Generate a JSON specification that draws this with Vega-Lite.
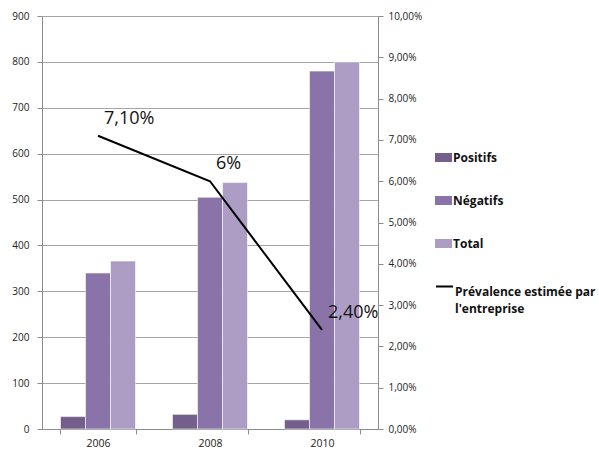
{
  "$schema": "https://vega.github.io/schema/vega-lite/v6.json",
  "width": 336,
  "height": 413,
  "autosize": "none",
  "padding": {"left": 42, "top": 16, "right": 221, "bottom": 23},
  "background": "white",
  "config": {
    "locale": {"number": {"decimal": ",", "thousands": " ", "grouping": [3], "currency": ["", " €"]}},
    "view": {"stroke": null},
    "font": "Open Sans",
    "axis": {"labelFont": "Open Sans", "labelFontSize": 10, "labelColor": "#222", "domainColor": "#8c8c8c", "tickColor": "#8c8c8c", "gridColor": "#a6a6a6", "title": null}
  },
  "layer": [
    {
      "data": {"values": [
        {"year": "2006", "serie": "Positifs", "value": 27},
        {"year": "2006", "serie": "Négatifs", "value": 340},
        {"year": "2006", "serie": "Total", "value": 366},
        {"year": "2008", "serie": "Positifs", "value": 32},
        {"year": "2008", "serie": "Négatifs", "value": 505},
        {"year": "2008", "serie": "Total", "value": 537},
        {"year": "2010", "serie": "Positifs", "value": 20},
        {"year": "2010", "serie": "Négatifs", "value": 780},
        {"year": "2010", "serie": "Total", "value": 800}
      ]},
      "mark": {"type": "bar", "stroke": "white", "strokeWidth": 0.6},
      "encoding": {
        "x": {"field": "year", "type": "nominal", "scale": {"paddingInner": 0.33, "paddingOuter": 0.165},
              "axis": {"labelAngle": 0, "tickBand": "extent", "tickSize": 5, "labelPadding": 4, "labelFontSize": 10.5}},
        "xOffset": {"field": "serie", "type": "nominal", "sort": ["Positifs", "Négatifs", "Total"], "scale": {"paddingInner": 0}},
        "y": {"field": "value", "type": "quantitative", "scale": {"domain": [0, 900], "nice": false},
              "axis": {"values": [0,100,200,300,400,500,600,700,800,900], "grid": true, "tickSize": 5, "labelPadding": 8, "orient": "left"}},
        "color": {"field": "serie", "type": "nominal", "sort": ["Positifs", "Négatifs", "Total"],
                  "scale": {"domain": ["Positifs", "Négatifs", "Total"], "range": ["#735e8c", "#8a73a8", "#ad9dc4"]},
                  "legend": {"title": null, "orient": "none", "legendX": 393, "legendY": 133, "padding": 0,
                             "symbolType": "M-1,-0.53H1V0.53H-1Z", "symbolSize": 289, "symbolStrokeWidth": 0,
                             "labelFont": "Open Sans", "labelFontWeight": "bold", "labelFontSize": 12, "labelColor": "#111",
                             "labelOffset": 1, "rowPadding": 28}}
      }
    },
    {
      "data": {"values": [
        {"year": "2006", "prev": 0.071, "label": "7,10%", "serie": "Prévalence estimée par l'entreprise"},
        {"year": "2008", "prev": 0.06, "label": "6%", "serie": "Prévalence estimée par l'entreprise"},
        {"year": "2010", "prev": 0.024, "label": "2,40%", "serie": "Prévalence estimée par l'entreprise"}
      ]},
      "encoding": {
        "x": {"field": "year", "type": "nominal"},
        "y": {"field": "prev", "type": "quantitative", "scale": {"domain": [0, 0.1], "nice": false},
              "axis": {"orient": "right", "format": ".2%", "values": [0,0.01,0.02,0.03,0.04,0.05,0.06,0.07,0.08,0.09,0.1], "grid": false, "tickSize": 5, "labelPadding": 5}}
      },
      "layer": [
        {
          "mark": {"type": "line", "strokeWidth": 2},
          "encoding": {
            "stroke": {"field": "serie", "type": "nominal", "scale": {"range": ["#000000"]},
                       "legend": {"title": null, "orient": "none", "legendX": 393, "legendY": 261, "padding": 0,
                                  "symbolType": "stroke", "symbolSize": 289, "symbolStrokeWidth": 2,
                                  "labelFont": "Open Sans", "labelFontWeight": "bold", "labelFontSize": 12, "labelColor": "#111",
                                  "labelOffset": 1, "labelLimit": 300, "labelBaseline": "top",
                                  "labelExpr": "['Prévalence estimée par', \"l'entreprise\"]",
                                  "encode": {"labels": {"update": {"lineHeight": {"value": 17}}}}}}
          }
        },
        {
          "mark": {"type": "text", "align": "left", "baseline": "middle", "dx": 6, "dy": -17, "fontSize": 18, "font": "Open Sans", "color": "#111"},
          "encoding": {"text": {"field": "label"}}
        }
      ]
    }
  ],
  "resolve": {"scale": {"y": "independent", "color": "independent"}}
}
